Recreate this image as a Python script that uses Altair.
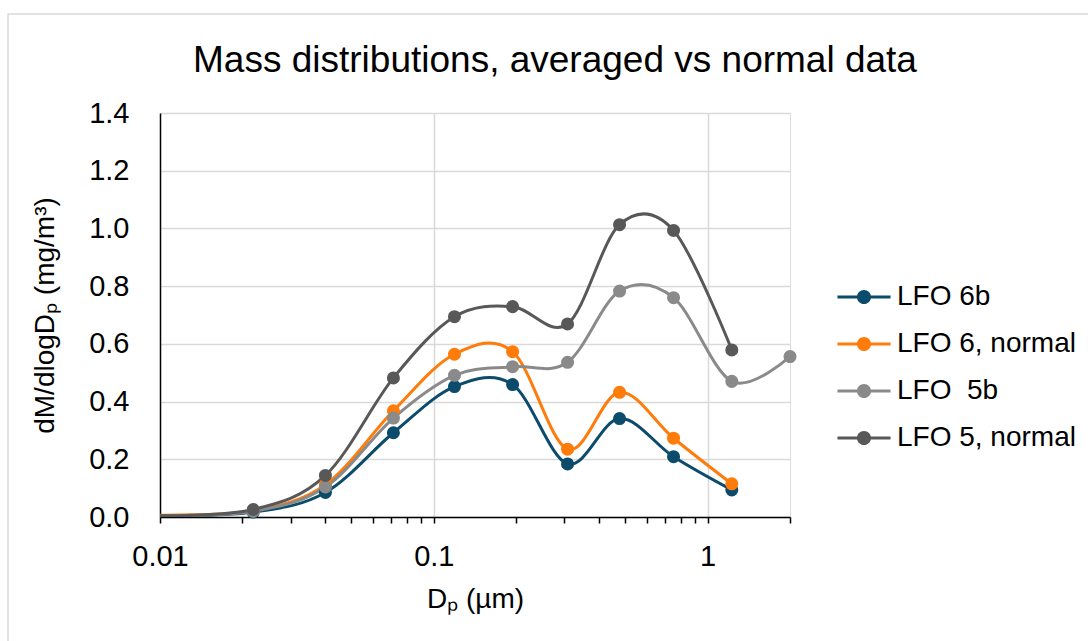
import altair as alt
import pandas as pd

# Particle size bins (geometric mean diameters, µm)
dp = [0.0098, 0.0219, 0.0402, 0.0712, 0.119, 0.194, 0.308, 0.477, 0.751, 1.226, 2.0]

# the 5b label keeps its double space (non-breaking so it survives SVG rendering)
series_names = ["LFO 6b", "LFO 6, normal", "LFO \u00a05b", "LFO 5, normal"]
lfo6b = [0.003, 0.017, 0.085, 0.292, 0.452, 0.459, 0.184, 0.341, 0.209, 0.094, None]
lfo6_normal = [0.006, 0.022, 0.112, 0.368, 0.564, 0.573, 0.235, 0.432, 0.273, 0.115, None]
lfo5b = [0.004, 0.020, 0.104, 0.343, 0.491, 0.521, 0.536, 0.783, 0.760, 0.470, 0.556]
lfo5_normal = [0.004, 0.026, 0.144, 0.482, 0.694, 0.729, 0.669, 1.013, 0.993, 0.579, None]

colors = ["#0b4b6c", "#ff7b0a", "#8a8a8a", "#585858"]

x_ticks = [0.01, 0.02, 0.03, 0.04, 0.05, 0.06, 0.07, 0.08, 0.09,
           0.1, 0.2, 0.3, 0.4, 0.5, 0.6, 0.7, 0.8, 0.9, 1, 2]
y_ticks = [0.0, 0.2, 0.4, 0.6, 0.8, 1.0, 1.2, 1.4]

rows = []
for name, vals in zip(series_names, [lfo6b, lfo6_normal, lfo5b, lfo5_normal]):
    for i, (d, v) in enumerate(zip(dp, vals)):
        if v is not None:
            rows.append({"series": name, "dp": d, "value": v, "order": i})
df = pd.DataFrame(rows)

FONT = "Liberation Sans"
TICK_FS = 29
TITLE_FS = 28

x_enc = alt.X(
    "dp:Q",
    scale=alt.Scale(type="log", domain=[0.01, 2], nice=False),
    axis=alt.Axis(
        title="Dₚ (µm)",
        values=x_ticks,
        labelExpr="datum.value == 0.01 ? '0.01' : datum.value == 0.1 ? '0.1' : datum.value == 1 ? '1' : ''",
        grid=True,
        gridColor="#d9d9d9",
        gridWidth=1.5,
        gridOpacity={"condition": {"test": "datum.value == 0.1 || datum.value == 1", "value": 1}, "value": 0},
        domainColor="#000000",
        domainWidth=1.5,
        tickColor="#000000",
        tickWidth=1.5,
        tickSize=6,
        labelPadding=19,
        labelFontSize=TICK_FS,
        labelColor="#000000",
        labelFont=FONT,
        labelFlush=False,
        titleFontSize=TITLE_FS,
        titleFont=FONT,
        titleFontWeight="normal",
        titleColor="#000000",
        titlePadding=14,
    ),
)

y_enc = alt.Y(
    "value:Q",
    scale=alt.Scale(domain=[0, 1.4], nice=False),
    axis=alt.Axis(
        title="dM/dlogDₚ (mg/m³)",
        values=y_ticks,
        format=".1f",
        grid=True,
        gridColor="#d9d9d9",
        gridWidth=1.5,
        ticks=False,
        domainColor="#000000",
        domainWidth=1.5,
        labelPadding=31,
        labelFontSize=TICK_FS,
        labelColor="#000000",
        labelFont=FONT,
        titleFontSize=TITLE_FS,
        titleFont=FONT,
        titleFontWeight="normal",
        titleColor="#000000",
        titlePadding=29,
    ),
)

# Legend glyph: short line with a dot in the middle
legend_symbol = (
    "M -1.77 -0.1 L 1.77 -0.1 L 1.77 0.1 L -1.77 0.1 Z "
    "M -0.47 0 A 0.47 0.47 0 1 1 0.47 0 A 0.47 0.47 0 1 1 -0.47 0 Z"
)

color_enc = alt.Color(
    "series:N",
    scale=alt.Scale(domain=series_names, range=colors),
    legend=alt.Legend(
        title=None,
        orient="none",
        legendX=689,
        legendY=169,
        symbolType=legend_symbol,
        symbolSize=900,
        symbolStrokeWidth=0,
        symbolOpacity=1,
        labelOffset=18,
        labelFontSize=28,
        labelFont=FONT,
        labelColor="#000000",
        rowPadding=18,
        labelLimit=400,
        padding=0,
    ),
)

base = alt.Chart(df)

lines = base.mark_line(interpolate="cardinal", strokeWidth=3, clip=True).encode(
    x=x_enc, y=y_enc,
    color=color_enc,
    order="order:Q",
    detail="series:N",
)

points = base.transform_filter("datum.dp >= 0.01").mark_point(
    filled=True, size=170, opacity=1, shape="circle"
).encode(x=x_enc, y=y_enc, color=color_enc)

frame = alt.Chart(alt.Data(values=[{}])).mark_rect(
    fill="transparent", stroke="#d9d9d9", strokeWidth=1.5
).encode(
    x=alt.value(-152), x2=alt.value(1088 - 160 + 20),
    y=alt.value(-99), y2=alt.value(641 - 113 + 20),
)

chart = alt.layer(frame, lines, points).properties(
    width=630,
    height=404,
    title=alt.TitleParams(
        "Mass distributions, averaged vs normal data",
        fontSize=37,
        font=FONT,
        fontWeight="normal",
        color="#000000",
        anchor="middle",
        frame="group",
        baseline="alphabetic",
        dx=80,
        offset=0,
        dy=96,
    ),
    padding={"left": 160, "top": 113, "right": 298, "bottom": 124},
    autosize="none",
).configure_view(stroke="transparent").configure(background="white")

chart.save("out.html", embed_options={"renderer": "svg", "actions": False})
